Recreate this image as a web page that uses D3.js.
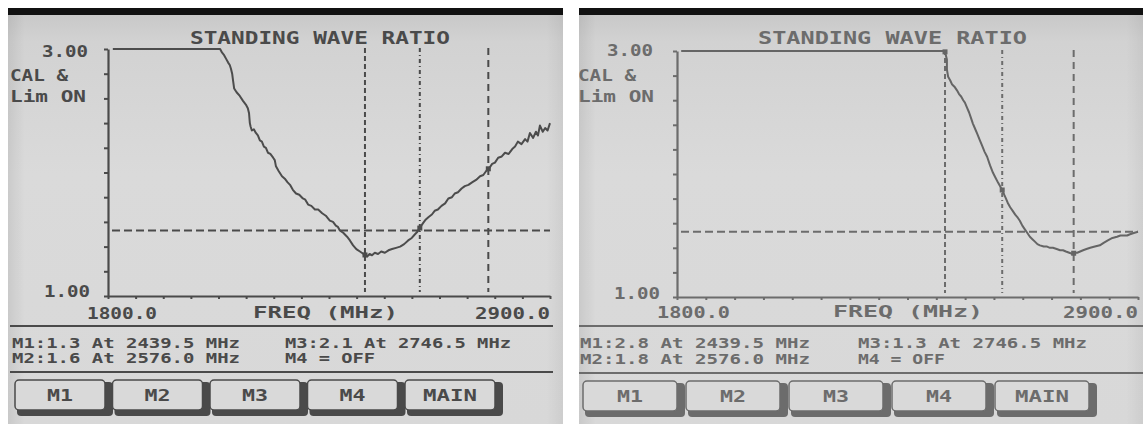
<!DOCTYPE html>
<html><head><meta charset="utf-8">
<script src="https://cdn.jsdelivr.net/npm/d3@7"></script>
<style>body{margin:0;background:#fff;} svg{display:block}</style>
</head><body>
<svg id="c" width="1143" height="424"></svg>
<script>
// ---------- data ----------
const title = "STANDING WAVE RATIO";
const xDomain = [1800, 2900];
const yDomain = [1, 3];
const xTickLabels = ["1800.0", "2900.0"];
const yTickLabels = ["3.00", "1.00"];
const axisTitle = "FREQ  (MHz)";
const statusLines = ["CAL &", "Lim ON"];
const limitSWR = 1.53;
const markerFreqs = [2439.5, 2576.0, 2746.5];
const buttonLabels = ["M1", "M2", "M3", "M4", "MAIN"];

const leftFreq = [1812,2079,2084,2089,2094,2099,2103,2106,2109,2111,2114,2120,2128,2136,2143,2148,2151,2153,2155,2158,2163,2168,2173,2178,2183,2188,2193,2198,2204,2211,2215,2218,2225,2233,2240,2247,2253,2260,2268,2276,2285,2291,2298,2306,2315,2323,2333,2342,2352,2360,2367,2372,2377,2386,2395,2402,2410,2418,2427,2436,2445,2451,2457,2464,2472,2480,2489,2498,2507,2517,2527,2537,2547,2556,2564,2570,2576,2584,2591,2598,2606,2613,2621,2630,2639,2647,2656,2663,2671,2680,2688,2697,2706,2716,2726,2734,2743,2750,2756,2763,2771,2780,2788,2797,2806,2813,2820,2829,2838,2844,2850,2858,2865,2870,2875,2882,2888,2894,2900];
const leftSWR = [3.00,3.00,2.97,2.95,2.92,2.89,2.87,2.84,2.80,2.75,2.68,2.65,2.62,2.58,2.55,2.52,2.48,2.40,2.37,2.34,2.35,2.32,2.30,2.26,2.25,2.21,2.20,2.16,2.15,2.12,2.10,2.05,2.01,1.97,1.95,1.92,1.90,1.86,1.83,1.82,1.79,1.78,1.74,1.73,1.70,1.70,1.67,1.65,1.61,1.60,1.57,1.56,1.53,1.51,1.48,1.45,1.41,1.38,1.36,1.34,1.32,1.34,1.33,1.35,1.34,1.36,1.35,1.37,1.38,1.39,1.40,1.42,1.45,1.47,1.50,1.52,1.55,1.59,1.62,1.64,1.66,1.69,1.70,1.73,1.75,1.79,1.80,1.83,1.84,1.87,1.89,1.90,1.92,1.94,1.97,1.98,2.02,2.04,2.07,2.08,2.12,2.13,2.16,2.15,2.19,2.21,2.25,2.23,2.27,2.25,2.32,2.28,2.33,2.30,2.38,2.33,2.36,2.34,2.40];

const rightFreq = [1810,2439,2444,2444,2447,2452,2456,2462,2468,2473,2478,2483,2487,2492,2497,2502,2506,2511,2516,2522,2528,2534,2540,2547,2554,2560,2566,2571,2576,2581,2585,2590,2595,2601,2607,2612,2618,2624,2630,2636,2642,2648,2654,2660,2666,2675,2683,2690,2697,2706,2714,2721,2728,2736,2743,2749,2755,2762,2769,2777,2786,2797,2809,2818,2828,2839,2850,2858,2866,2874,2881,2890,2900];
const rightSWR = [3.00,3.00,2.93,2.85,2.79,2.76,2.73,2.71,2.68,2.65,2.63,2.60,2.58,2.54,2.50,2.45,2.41,2.37,2.33,2.28,2.23,2.18,2.14,2.07,2.01,1.97,1.93,1.90,1.87,1.83,1.80,1.76,1.73,1.70,1.67,1.65,1.62,1.58,1.55,1.52,1.49,1.47,1.45,1.43,1.42,1.41,1.41,1.40,1.40,1.39,1.38,1.38,1.37,1.36,1.35,1.36,1.36,1.37,1.38,1.39,1.40,1.41,1.42,1.44,1.46,1.48,1.49,1.50,1.50,1.50,1.51,1.52,1.53];

const leftMarkerText = ["M1:1.3 At 2439.5 MHz", "M2:1.6 At 2576.0 MHz", "M3:2.1 At 2746.5 MHz", "M4 = OFF"];
const rightMarkerText = ["M1:2.8 At 2439.5 MHz", "M2:1.8 At 2576.0 MHz", "M3:1.3 At 2746.5 MHz", "M4 = OFF"];

// ---------- layout ----------
const layouts = [
  { sx: 8, sy: 8, sw: 555, sh: 416, ink: "#4a4a4a", curve: "#4c4c4c",
    x0: 108, x1: 550, y0: 296, y1: 49,
    title: [190, 450, 38], top: [88, 51], bot: [90, 291], stat: [10, 76, 97],
    xl: [[87, 157], [475, 550], 313], at: [253, 398, 312],
    sep: [10, 553, 326, 372], m: [[12, 240], [285, 511], [12, 240], [285, 375], 343, 358],
    btn: [15, 97.5, 90, 380, 30] },
  { sx: 579, sy: 8, sw: 564, sh: 416, ink: "#6c6c6c", curve: "#656565",
    x0: 677, x1: 1138, y0: 297, y1: 51,
    title: [758, 1027, 38], top: [653, 50], bot: [660, 293], stat: [578, 76, 97],
    xl: [[657, 730], [1063, 1138], 312], at: [833, 983, 311],
    sep: [579, 1143, 326, 373], m: [[580, 810], [858, 1087], [580, 810], [858, 945], 343, 359],
    btn: [583, 103, 94, 381, 30] }
];

const svg = d3.select("#c");
const defs = svg.append("defs");
const grad = defs.append("linearGradient").attr("id", "bg").attr("x1", 0).attr("y1", 0).attr("x2", 0).attr("y2", 1);
grad.append("stop").attr("offset", "0%").attr("stop-color", "#c6c6c6");
grad.append("stop").attr("offset", "8%").attr("stop-color", "#d2d2d2");
grad.append("stop").attr("offset", "40%").attr("stop-color", "#dadada");
grad.append("stop").attr("offset", "100%").attr("stop-color", "#d8d8d8");
const hgrad = defs.append("linearGradient").attr("id", "edge").attr("x1", 0).attr("y1", 0).attr("x2", 1).attr("y2", 0);
hgrad.append("stop").attr("offset", "0%").attr("stop-color", "#000").attr("stop-opacity", 0.07);
hgrad.append("stop").attr("offset", "3%").attr("stop-color", "#000").attr("stop-opacity", 0);
hgrad.append("stop").attr("offset", "97%").attr("stop-color", "#000").attr("stop-opacity", 0);
hgrad.append("stop").attr("offset", "100%").attr("stop-color", "#000").attr("stop-opacity", 0.05);

const FONT = "'DejaVu Sans Mono', monospace";

function fitText(g, str, xa, xb, yc, size, color) {
  return g.append("text")
    .attr("x", xa).attr("y", yc)
    .attr("dominant-baseline", "central")
    .attr("font-family", FONT).attr("font-size", size).attr("font-weight", "bold")
    .attr("fill", color)
    .attr("textLength", xb - xa).attr("lengthAdjust", "spacingAndGlyphs")
    .text(str);
}

function drawPanel(L, idx, freq, swr, mtext) {
  const g = svg.append("g");
  const clipId = "scr" + idx;
  defs.append("clipPath").attr("id", clipId).append("rect")
    .attr("x", L.sx).attr("y", L.sy).attr("width", L.sw).attr("height", L.sh);
  const gc = g.append("g").attr("clip-path", `url(#${clipId})`);
  gc.append("rect").attr("x", L.sx).attr("y", L.sy).attr("width", L.sw).attr("height", L.sh).attr("fill", "url(#bg)");
  gc.append("rect").attr("x", L.sx).attr("y", L.sy).attr("width", L.sw).attr("height", L.sh).attr("fill", "url(#edge)");
  gc.append("rect").attr("x", L.sx).attr("y", L.sy).attr("width", L.sw).attr("height", 7).attr("fill", "#111");

  const x = d3.scaleLinear().domain(xDomain).range([L.x0, L.x1]);
  const y = d3.scaleLinear().domain(yDomain).range([L.y0, L.y1]);

  // axes
  const yAxis = d3.axisLeft(y).tickValues(d3.range(11).map(i => 1 + i * 0.2)).tickSize(4).tickSizeOuter(0).tickFormat("");
  const xAxis = d3.axisBottom(x).tickValues(d3.range(17).map(i => 1800 + i * 1100 / 16)).tickSize(3).tickSizeOuter(0).tickFormat("");
  const ya = gc.append("g").attr("transform", `translate(${L.x0},0)`).call(yAxis);
  const xa = gc.append("g").attr("transform", `translate(0,${L.y0})`).call(xAxis);
  [ya, xa].forEach(a => {
    a.selectAll("path").attr("stroke", L.ink).attr("stroke-width", 2.2);
    a.selectAll("line").attr("stroke", L.ink).attr("stroke-width", 2);
  });

  // limit line
  gc.append("line").attr("x1", L.x0 + 4).attr("x2", L.x1).attr("y1", y(limitSWR)).attr("y2", y(limitSWR))
    .attr("stroke", L.ink).attr("stroke-width", 2).attr("stroke-dasharray", "8,4");

  // markers
  const dashes = ["5,3", "4,3,1,3", "7,5"];
  markerFreqs.forEach((f, i) => {
    gc.append("line").attr("x1", x(f)).attr("x2", x(f)).attr("y1", y(3) - 1).attr("y2", y(1) - 4)
      .attr("stroke", L.ink).attr("stroke-width", 2).attr("stroke-dasharray", dashes[i]);
  });

  // curve
  const pts = freq.map((f, i) => [f, swr[i]]);
  gc.append("path").datum(pts)
    .attr("d", d3.line().x(d => x(d[0])).y(d => y(d[1])))
    .attr("fill", "none").attr("stroke", L.curve).attr("stroke-width", 2).attr("stroke-linejoin", "round");

  // marker squares on curve
  const bis = d3.bisector(d => d[0]).left;
  markerFreqs.forEach(f => {
    const j = Math.max(1, bis(pts, f));
    const a = pts[j - 1], b = pts[j];
    const t = b[0] === a[0] ? 1 : (f - a[0]) / (b[0] - a[0]);
    const v = a[1] + t * (b[1] - a[1]);
    gc.append("rect").attr("x", x(f) - 2.5).attr("y", y(v) - 2.5).attr("width", 5).attr("height", 5).attr("fill", L.curve);
  });

  // texts
  fitText(gc, title, L.title[0], L.title[1], L.title[2], 17, L.ink);
  fitText(gc, yTickLabels[0], L.top[0] - 46, L.top[0], L.top[1], 16, L.ink);
  fitText(gc, yTickLabels[1], L.bot[0] - 46, L.bot[0], L.bot[1], 16, L.ink);
  fitText(gc, statusLines[0], L.stat[0], L.stat[0] + 58, L.stat[1], 15, L.ink);
  fitText(gc, statusLines[1], L.stat[0], L.stat[0] + 76, L.stat[2], 15, L.ink);
  fitText(gc, xTickLabels[0], L.xl[0][0], L.xl[0][1], L.xl[2], 16, L.ink);
  fitText(gc, xTickLabels[1], L.xl[1][0], L.xl[1][1], L.xl[2], 16, L.ink);
  fitText(gc, axisTitle, L.at[0], L.at[1], L.at[2], 16, L.ink);

  gc.append("line").attr("x1", L.sep[0]).attr("x2", L.sep[1]).attr("y1", L.sep[2]).attr("y2", L.sep[2]).attr("stroke", L.ink).attr("stroke-width", 2);
  gc.append("line").attr("x1", L.sep[0]).attr("x2", L.sep[1]).attr("y1", L.sep[3]).attr("y2", L.sep[3]).attr("stroke", L.ink).attr("stroke-width", 2);

  fitText(gc, mtext[0], L.m[0][0], L.m[0][1], L.m[4], 14, L.ink);
  fitText(gc, mtext[2], L.m[1][0], L.m[1][1], L.m[4], 14, L.ink);
  fitText(gc, mtext[1], L.m[2][0], L.m[2][1], L.m[5], 14, L.ink);
  fitText(gc, mtext[3], L.m[3][0], L.m[3][1], L.m[5], 14, L.ink);

  // buttons
  buttonLabels.forEach((lab, i) => {
    const bx = L.btn[0] + i * L.btn[1], bw = L.btn[2], by = L.btn[3], bh = L.btn[4];
    gc.append("rect").attr("x", bx + 2).attr("y", by + 2).attr("width", bw + 6).attr("height", bh + 4).attr("rx", 4).attr("fill", L.ink);
    gc.append("rect").attr("x", bx).attr("y", by).attr("width", bw).attr("height", bh).attr("rx", 4)
      .attr("fill", "#d9d9d9").attr("stroke", L.ink).attr("stroke-width", 1.5);
    const tw = lab.length * 12 + (lab.length - 1) * 2;
    fitText(gc, lab, bx + bw / 2 - tw / 2, bx + bw / 2 + tw / 2, by + bh / 2, 16, L.ink);
  });
}

drawPanel(layouts[0], 0, leftFreq, leftSWR, leftMarkerText);
drawPanel(layouts[1], 1, rightFreq, rightSWR, rightMarkerText);
</script>
</body></html>
